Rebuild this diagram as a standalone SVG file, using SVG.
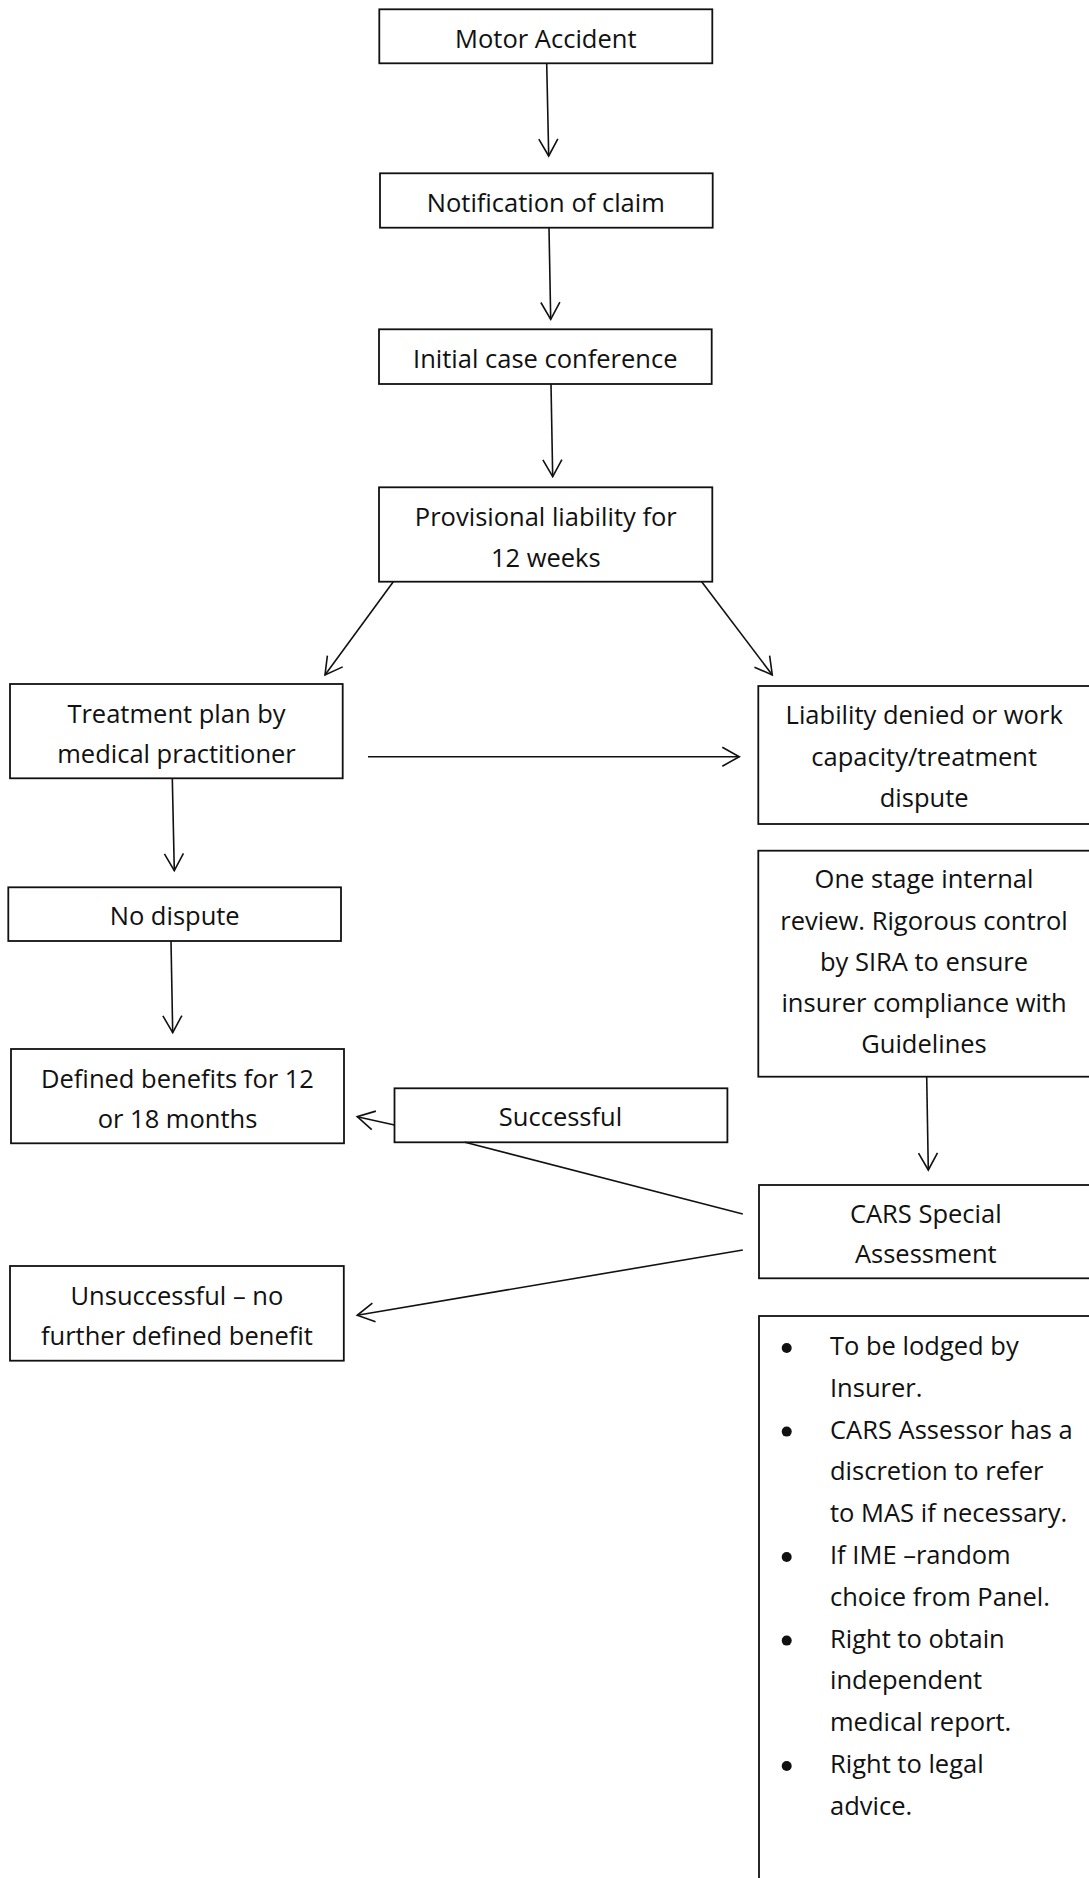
<svg xmlns="http://www.w3.org/2000/svg" width="1089" height="1878" viewBox="0 0 1089 1878">
<style>
.box{fill:#fff;stroke:#111;stroke-width:1.8}
.t{font-family:"Open Sans","Liberation Sans",sans-serif;font-size:25.5px;fill:#111;text-anchor:middle}
.tl{font-family:"Open Sans","Liberation Sans",sans-serif;font-size:25.5px;fill:#111}
.c{fill:none;stroke:#111;stroke-width:1.6}
</style>
<defs>
<marker id="ah" markerUnits="userSpaceOnUse" viewBox="-19 -11 21 22" refX="0" refY="0" markerWidth="21" markerHeight="22" orient="auto">
<path d="M-17,-9.5 L0,0 L-17,9.5" fill="none" stroke="#111" stroke-width="1.6"/>
</marker>
</defs>
<rect width="1089" height="1878" fill="#fff"/>
<g id="motor-accident"><rect class="box" x="379.3" y="9.3" width="333" height="54"/><text class="t" x="545.8" y="47.7">Motor Accident</text></g>
<g id="notification"><rect class="box" x="380" y="173.3" width="332.7" height="54.4"/><text class="t" x="545.8" y="211.7">Notification of claim</text></g>
<g id="initial-case"><rect class="box" x="379" y="329.3" width="332.7" height="54.7"/><text class="t" x="545.3" y="368">Initial case conference</text></g>
<g id="provisional"><rect class="box" x="379" y="487.3" width="333.3" height="94.4"/><text class="t" x="545.8" y="525.7">Provisional liability for</text><text class="t" x="545.8" y="566.7">12 weeks</text></g>
<g id="treatment"><rect class="box" x="10" y="684" width="332.7" height="94.3"/><text class="t" x="176.5" y="722.7">Treatment plan by</text><text class="t" x="176.5" y="763.3">medical practitioner</text></g>
<g id="liability-denied"><rect class="box" x="758.3" y="686" width="340" height="138"/><text class="t" x="924.2" y="724.3">Liability denied or work</text><text class="t" x="924.2" y="766">capacity/treatment</text><text class="t" x="924.2" y="806.7">dispute</text></g>
<g id="no-dispute"><rect class="box" x="8.3" y="887.3" width="332.7" height="53.7"/><text class="t" x="174.7" y="925">No dispute</text></g>
<g id="internal-review"><rect class="box" x="758.3" y="850.7" width="340" height="226"/><text class="t" x="924" y="888.3">One stage internal</text><text class="t" x="924" y="930">review. Rigorous control</text><text class="t" x="924" y="970.5">by SIRA to ensure</text><text class="t" x="924" y="1011.7">insurer compliance with</text><text class="t" x="924" y="1053.3">Guidelines</text></g>
<g id="defined-benefits"><rect class="box" x="11" y="1049" width="333" height="94.3"/><text class="t" x="177.5" y="1087.7">Defined benefits for 12</text><text class="t" x="177.5" y="1128.3">or 18 months</text></g>
<g id="successful"><rect class="box" x="394.5" y="1088.3" width="332.9" height="54"/><text class="t" x="560.5" y="1125.7">Successful</text></g>
<g id="cars"><rect class="box" x="759" y="1185" width="340" height="93.3"/><text class="t" x="925.8" y="1223.3">CARS Special</text><text class="t" x="925.8" y="1263.3">Assessment</text></g>
<g id="unsuccessful"><rect class="box" x="10" y="1266" width="333.8" height="94.7"/><text class="t" x="176.9" y="1305">Unsuccessful – no</text><text class="t" x="176.9" y="1345">further defined benefit</text></g>
<g id="cars-notes"><rect class="box" x="759" y="1316" width="340" height="600"/>
<g fill="#111"><circle cx="786.7" cy="1348" r="5"/><circle cx="786.7" cy="1431.6" r="5"/><circle cx="786.7" cy="1557" r="5"/><circle cx="786.7" cy="1640.6" r="5"/><circle cx="786.7" cy="1766" r="5"/></g>
<text class="tl" x="830" y="1355">To be lodged by</text>
<text class="tl" x="830" y="1396.8">Insurer.</text>
<text class="tl" x="830" y="1438.6">CARS Assessor has a</text>
<text class="tl" x="830" y="1480.4">discretion to refer</text>
<text class="tl" x="830" y="1522.2">to MAS if necessary.</text>
<text class="tl" x="830" y="1564">If IME –random</text>
<text class="tl" x="830" y="1605.8">choice from Panel.</text>
<text class="tl" x="830" y="1647.6">Right to obtain</text>
<text class="tl" x="830" y="1689.4">independent</text>
<text class="tl" x="830" y="1731.2">medical report.</text>
<text class="tl" x="830" y="1773">Right to legal</text>
<text class="tl" x="830" y="1814.8">advice.</text>
</g>
<g id="connectors">
<line class="c" x1="546.7" y1="63.3" x2="548.7" y2="156" marker-end="url(#ah)"/>
<line class="c" x1="549" y1="227.7" x2="550.7" y2="319.3" marker-end="url(#ah)"/>
<line class="c" x1="551" y1="384" x2="552.7" y2="476.7" marker-end="url(#ah)"/>
<line class="c" x1="393.3" y1="581.7" x2="325" y2="675" marker-end="url(#ah)"/>
<line class="c" x1="701.7" y1="581.7" x2="772.3" y2="675" marker-end="url(#ah)"/>
<line class="c" x1="368" y1="756.7" x2="739.3" y2="756.7" marker-end="url(#ah)"/>
<line class="c" x1="172.3" y1="778.3" x2="174.3" y2="870.7" marker-end="url(#ah)"/>
<line class="c" x1="171" y1="941" x2="172.7" y2="1032.7" marker-end="url(#ah)"/>
<line class="c" x1="926.7" y1="1076.7" x2="928.3" y2="1170" marker-end="url(#ah)"/>
<line class="c" x1="394.5" y1="1125" x2="357.2" y2="1116.7" marker-end="url(#ah)"/>
<line class="c" x1="465" y1="1142.3" x2="742.8" y2="1214"/>
<line class="c" x1="742.8" y1="1250" x2="357.2" y2="1315.3" marker-end="url(#ah)"/>
</g>
</svg>
